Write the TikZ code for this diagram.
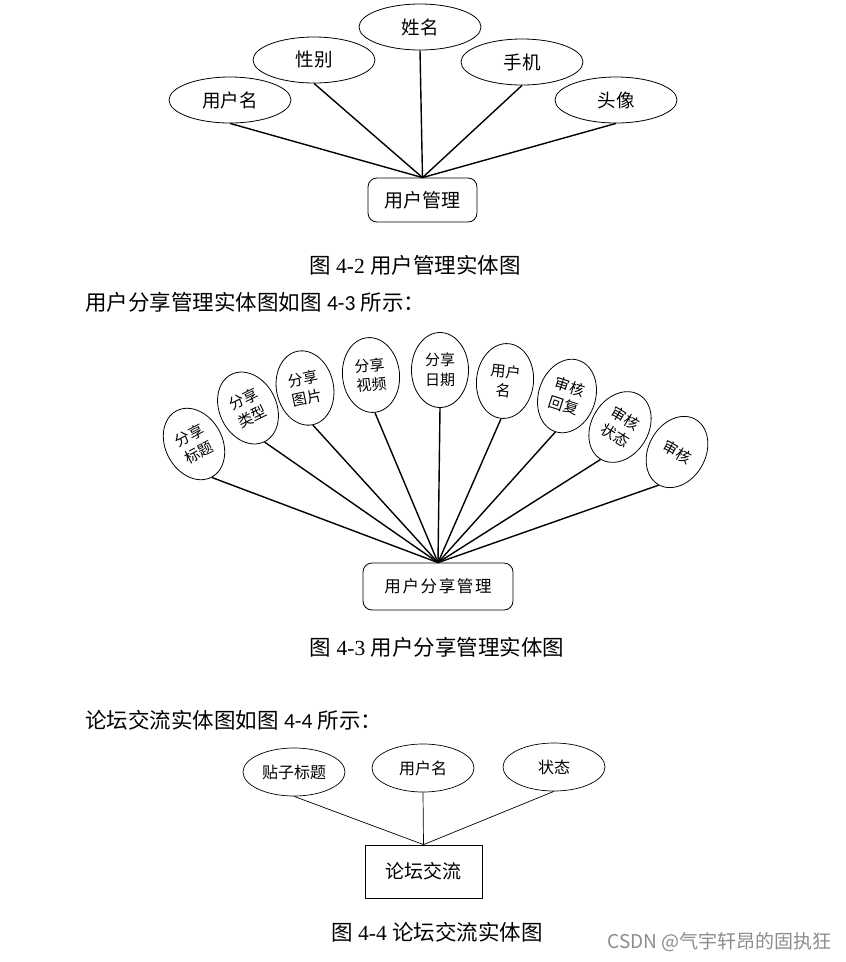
\documentclass[tikz,border=0pt]{standalone}
\usepackage{fontspec}
\setmainfont{Liberation Serif}
\newfontfamily\cjk{Noto Sans CJK SC}
\newfontfamily\carl{Carlito}
\usetikzlibrary{shapes.geometric}
\tikzset{
  hattr/.style={ellipse, draw, line width=0.8pt, inner sep=0pt, minimum width=122pt, minimum height=46pt, font=\cjk\fontsize{18.5}{20}\selectfont},
  vattr/.style={ellipse, draw, line width=0.8pt, inner sep=0pt, minimum width=57pt, minimum height=75pt, align=center, font=\cjk\fontsize{15}{19.5}\selectfont},
  battr/.style={ellipse, draw, line width=0.7pt, inner sep=0pt, minimum width=102pt, minimum height=48pt, font=\cjk\fontsize{16}{18}\selectfont},
  rbox/.style={draw, rounded corners=9pt, line width=0.8pt, inner sep=0pt},
  link/.style={line width=1.4pt},
  thin link/.style={line width=0.7pt},
  caption/.style={inner sep=0pt, font=\fontsize{21.5}{24}\selectfont},
}
\begin{document}
\begin{tikzpicture}[x=1pt,y=-1pt]
\path[use as bounding box, fill=white] (0,0) rectangle (846,962);

% ---- Figure 4-2 ----
\node[hattr] (u1) at (230,100) {用户名};
\node[hattr] (u2) at (314,60) {性别};
\node[hattr] (u3) at (420,27) {姓名};
\node[hattr] (u4) at (522,62) {手机};
\node[hattr] (u5) at (616,100) {头像};
\node[rbox, minimum width=109pt, minimum height=44pt, font=\cjk\fontsize{19}{21}\selectfont] (um) at (422.5,200) {用户管理};
\foreach \i in {1,...,5} \draw[link] (u\i.south) -- (um.north);

\node[caption] (cap1) at (415,265) {{\cjk 图} 4-2 {\cjk 用户管理实体图}};
\node[caption, anchor=west] (p1) at (85,302) {{\cjk 用户分享管理实体图如图} {\carl 4-3} {\cjk 所示：}};

% ---- Figure 4-3 ----
\node[vattr, rotate=28] (s1) at (194,444) {分享\\标题};
\node[vattr, rotate=26] (s2) at (248,408) {分享\\类型};
\node[vattr, rotate=12] (s3) at (305,388) {分享\\图片};
\node[vattr, rotate=6] (s4) at (371,375) {分享\\视频};
\node[vattr] (s5) at (440,370) {分享\\日期};
\node[vattr, rotate=-6] (s6) at (505,381) {用户\\名};
\node[vattr, rotate=-18] (s7) at (567,396) {审核\\回复};
\node[vattr, rotate=-31] (s8) at (620,427) {审核\\状态};
\node[vattr, rotate=-29] (s9) at (677,452) {审核};
\node[rbox, minimum width=150pt, minimum height=47pt, font=\cjk\fontsize{16.5}{18}\selectfont\addfontfeature{LetterSpace=10}] (sm) at (438,586.5) {用户分享管理};
\foreach \i in {1,...,9} \draw[link] (s\i.south) -- (sm.north);

\node[caption] (cap2) at (437,647) {{\cjk 图} 4-3 {\cjk 用户分享管理实体图}};
\node[caption, anchor=west] (p2) at (85,720) {{\cjk 论坛交流实体图如图} {\carl 4-4} {\cjk 所示：}};

% ---- Figure 4-4 ----
\node[battr] (f1) at (294,772) {贴子标题};
\node[battr] (f2) at (423,768) {用户名};
\node[battr] (f3) at (554,767) {状态};
\node[draw, line width=0.8pt, minimum width=117pt, minimum height=53pt, inner sep=0pt, font=\cjk\fontsize{19}{21}\selectfont] (fm) at (423.5,871.5) {论坛交流};
\foreach \i in {1,2,3} \draw[thin link] (f\i.south) -- (fm.north);

\node[caption] (cap3) at (437,932) {{\cjk 图} 4-4 {\cjk 论坛交流实体图}};
\node[anchor=east, inner sep=0pt, text=black!45, font=\cjk\fontsize{19}{21}\selectfont] (wm) at (832,942) {CSDN @气宇轩昂的固执狂};
\end{tikzpicture}
\end{document}
